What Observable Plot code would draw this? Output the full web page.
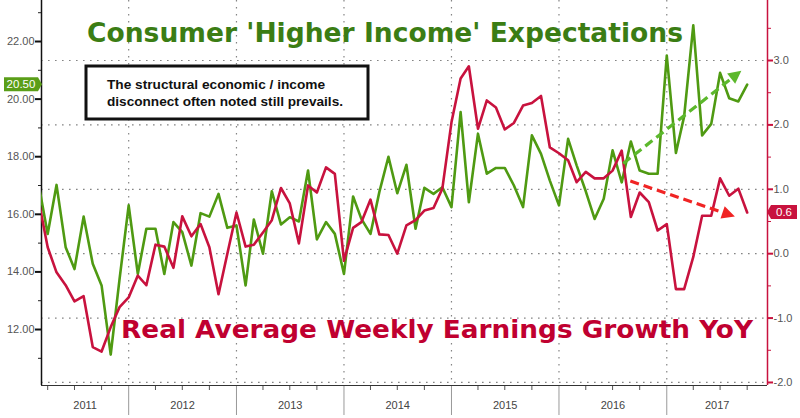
<!DOCTYPE html>
<html><head><meta charset="utf-8">
<script src="https://cdn.jsdelivr.net/npm/d3@7"></script>
<script src="https://cdn.jsdelivr.net/npm/@observablehq/plot@0.6"></script>
<style>body{margin:0;background:#fff;} svg{display:block}</style>
</head><body><div id="chart"></div>
<script>
// ---- data (monthly, first month = March 2011) ----
const firstYear = 2011, firstMonth = 2; // March (0-based)
const expectations = [17.06,15.32,17.02,14.86,14.10,15.92,14.28,13.53,11.13,13.75,
  16.31,13.93,15.50,15.50,13.93,15.73,15.38,14.22,16.04,15.92,
  16.71,15.53,15.61,13.53,15.82,14.63,16.80,15.65,15.90,15.75,
  17.52,15.13,15.73,15.32,13.93,16.62,15.84,15.32,16.77,18.00,
  16.73,17.72,15.50,16.92,16.71,16.94,16.25,19.55,16.42,18.80,
  17.41,17.61,17.61,17.00,16.25,18.74,18.10,17.17,16.31,18.62,
  17.70,16.80,15.84,16.54,18.22,17.11,18.53,17.52,17.41,17.41,
  21.51,18.13,19.40,22.56,18.74,19.14,20.91,20.03,19.92,20.50];
const earnings = [0.83,0.10,-0.29,-0.49,-0.74,-0.66,-1.45,-1.52,-1.14,-0.83,
  -0.68,-0.34,-0.49,0.14,0.11,-0.22,0.58,0.27,0.46,0.10,
  -0.63,0.00,0.64,0.11,0.14,0.33,0.52,1.02,0.78,0.16,
  1.06,0.95,1.34,1.24,-0.11,0.40,0.49,0.84,0.30,0.29,
  0.00,0.44,0.52,0.67,0.71,1.01,2.04,2.72,2.91,1.94,
  2.38,2.27,1.93,2.03,2.30,2.34,2.45,1.65,1.56,1.45,
  1.11,1.27,1.17,1.17,1.29,1.60,0.57,0.95,0.80,0.36,
  0.46,-0.55,-0.55,-0.05,0.59,0.59,1.17,0.90,1.01,0.64];
const years = [2011,2012,2013,2014,2015,2016,2017];
const leftTicks = [12,14,16,18,20,22];
const leftMinor = [11,13,15,17,19,21,23];
const rightTicks = [-2,-1,0,1,2,3];
const rightMinor = [-1.5,-0.5,0.5,1.5,2.5,3.5];
const leftDomain = [10.056, 23.424];
const rightDomain = [-2.047, 3.932];
const xDomain = [new Date("2011-03-11"), new Date("2017-12-09")];
const greenArrow = [{date:"2016-08-08", v:17.75},{date:"2017-09-13", v:20.97}];
const redArrow = [{date:"2016-09-01", v:1.12},{date:"2017-08-22", v:0.57}];
const titleTop = "Consumer 'Higher Income' Expectations";
const titleBottom = "Real Average Weekly Earnings Growth YoY";
const noteLines = ["The structural economic / income","disconnect often noted still prevails."];

// ---- colours ----
const GREEN = "#4f9a12", GREEN_T = "#3b7d14", GREEN_A = "#5cb82c";
const RED = "#c8123e", RED_T = "#c00030", RED_A = "#f02424";

const toL = v => leftDomain[0] + (v - rightDomain[0]) * (leftDomain[1]-leftDomain[0])/(rightDomain[1]-rightDomain[0]);
const fromL = l => rightDomain[0] + (l - leftDomain[0]) * (rightDomain[1]-rightDomain[0])/(leftDomain[1]-leftDomain[0]);
const monthDate = i => new Date(Date.UTC(firstYear, firstMonth + i, 1));

const greenData = expectations.map((v,i) => ({date: monthDate(i), v}));
const redData = earnings.map((v,i) => ({date: monthDate(i), v: toL(v)}));
const yearStarts = years.map(y => new Date(Date.UTC(y,0,1)));
const quarters = d3.utcMonths(xDomain[0], xDomain[1], 3).filter(d => d.getUTCMonth() % 3 === 0 && d.getUTCMonth() !== 0);
const yearLabels = years.map(y => {
  const a = Math.max(+xDomain[0], Date.UTC(y,0,1)), b = Math.min(+xDomain[1], Date.UTC(y+1,0,1));
  return {mid: new Date((a+b)/2), label: String(y)};
});

const chart = Plot.plot({
  width: 800, height: 418,
  marginLeft: 41, marginRight: 33, marginTop: 0, marginBottom: 33,
  style: {fontFamily: "'Liberation Sans', Arial, sans-serif", fontSize: "11px", background: "#fff", color: "#555"},
  x: {type: "utc", domain: xDomain, label: null},
  y: {domain: leftDomain, label: null},
  marks: [
    Plot.gridY(rightTicks.map(toL), {stroke: "#777", strokeOpacity: 0.9, strokeDasharray: "1.6,5.4", strokeWidth: 1.2}),
    Plot.gridX(yearStarts.slice(1), {stroke: "#777", strokeOpacity: 0.9, strokeDasharray: "1.6,5.4", strokeWidth: 1.2}),
    // bottom axis
    Plot.axisX(quarters, {tickSize: 5, tickFormat: () => "", stroke: "#555", label: null}),
    Plot.axisX(yearStarts.slice(1), {tickSize: 30, tickFormat: () => "", stroke: "#999", label: null}),
    Plot.text(yearLabels, {x: "mid", text: "label", frameAnchor: "bottom", dy: 23, fill: "#444", fontSize: 11}),
    // left axis
    Plot.axisY(leftMinor, {anchor: "left", tickSize: 3, tickFormat: () => "", stroke: "#222", label: null}),
    Plot.axisY(leftTicks, {anchor: "left", tickSize: 6, tickPadding: 1, strokeWidth: 2, stroke: "#111", fill: "#555", label: null, tickFormat: d => d.toFixed(2)}),
    // right axis
    Plot.axisY(rightMinor.map(toL), {anchor: "right", tickSize: 3, tickFormat: () => "", stroke: RED, label: null}),
    Plot.axisY(rightTicks.map(toL), {anchor: "right", tickSize: 5, tickPadding: 1, strokeWidth: 2, stroke: RED, fill: "#555", label: null,
      tickFormat: d => (Math.round(fromL(d)*10)/10 + 0).toFixed(1)}),
    Plot.ruleX([xDomain[0]], {stroke: "#111", strokeWidth: 1.5}),
    Plot.ruleX([xDomain[1]], {stroke: RED, strokeWidth: 1.5}),
    Plot.ruleY([leftDomain[0]], {stroke: "#333", strokeWidth: 1.2}),
    // series
    Plot.line(greenData, {x: "date", y: "v", stroke: GREEN, strokeWidth: 2.6, clip: true}),
    Plot.line(redData, {x: "date", y: "v", stroke: RED, strokeWidth: 2.6, clip: true})
  ]
});
document.getElementById("chart").appendChild(chart);

// ---- annotations placed through the plot's scales ----
const svg = d3.select(chart);
const X = chart.scale("x"), Y = chart.scale("y");
const px = d => X.apply(d), py = v => Y.apply(v);
const layer = svg.append("g").attr("text-anchor", "start");

function drawArrow(pts, color, conv) {
  const [a, b] = pts.map(p => [px(new Date(p.date)), py(conv(p.v))]);
  const ang = Math.atan2(b[1]-a[1], b[0]-a[0]);
  const hl = 13, hw = 6.5;
  const bx = b[0] - hl*Math.cos(ang), by = b[1] - hl*Math.sin(ang);
  layer.append("line").attr("x1", a[0]).attr("y1", a[1]).attr("x2", bx).attr("y2", by)
    .attr("stroke", color).attr("stroke-width", 3.2).attr("stroke-dasharray", "9,5");
  const nx = -Math.sin(ang)*hw, ny = Math.cos(ang)*hw;
  layer.append("path").attr("d", `M${b[0]},${b[1]}L${bx+nx},${by+ny}L${bx-nx},${by-ny}Z`).attr("fill", color);
}
drawArrow(greenArrow, GREEN_A, v => v);
drawArrow(redArrow, RED_A, toL);

// titles
layer.append("text").attr("x", 87).attr("y", 42).attr("fill", GREEN_T)
  .attr("font-family", "'DejaVu Sans', Verdana, sans-serif").attr("font-weight", "bold").attr("font-size", 26)
  .attr("textLength", 596).attr("lengthAdjust", "spacingAndGlyphs").text(titleTop);
layer.append("text").attr("x", 121).attr("y", 338).attr("fill", RED_T)
  .attr("font-family", "'DejaVu Sans', Verdana, sans-serif").attr("font-weight", "bold").attr("font-size", 25)
  .attr("textLength", 632).attr("lengthAdjust", "spacingAndGlyphs").text(titleBottom);

// note box
layer.append("rect").attr("x", 86).attr("y", 66).attr("width", 282).attr("height", 53)
  .attr("fill", "#fff").attr("stroke", "#111").attr("stroke-width", 3);
const lens = [218, 236];
noteLines.forEach((t, i) => {
  layer.append("text").attr("x", 107).attr("y", 89 + i*17).attr("fill", "#111")
    .attr("font-family", "'Liberation Sans', Arial, sans-serif").attr("font-weight", "bold").attr("font-size", 13.5)
    .attr("textLength", lens[i]).attr("lengthAdjust", "spacingAndGlyphs").text(t);
});

// last-value tags
const lastG = expectations[expectations.length-1];
const lastR = earnings[earnings.length-1];
{
  const y = py(lastG), x0 = 4, x1 = 38, xt = 42;
  layer.append("path").attr("d", `M${x0},${y-7}L${x1},${y-7}L${xt},${y}L${x1},${y+7}L${x0},${y+7}Z`).attr("fill", "#5a9e18");
  layer.append("text").attr("x", (x0+x1)/2).attr("y", y).attr("dy", "0.36em").attr("text-anchor", "middle")
    .attr("fill", "#fff").attr("font-family", "'Liberation Sans', Arial, sans-serif").attr("font-size", 11.5).text(lastG.toFixed(2));
}
{
  const y = py(toL(lastR)), xt = 767, x1 = 771, x2 = 797;
  layer.append("path").attr("d", `M${xt},${y}L${x1},${y-7}L${x2},${y-7}L${x2},${y+7}L${x1},${y+7}Z`).attr("fill", RED);
  layer.append("text").attr("x", (x1+x2)/2).attr("y", y).attr("dy", "0.36em").attr("text-anchor", "middle")
    .attr("fill", "#fff").attr("font-family", "'Liberation Sans', Arial, sans-serif").attr("font-size", 11.5).text(lastR.toFixed(1));
}
</script>
</body></html>
